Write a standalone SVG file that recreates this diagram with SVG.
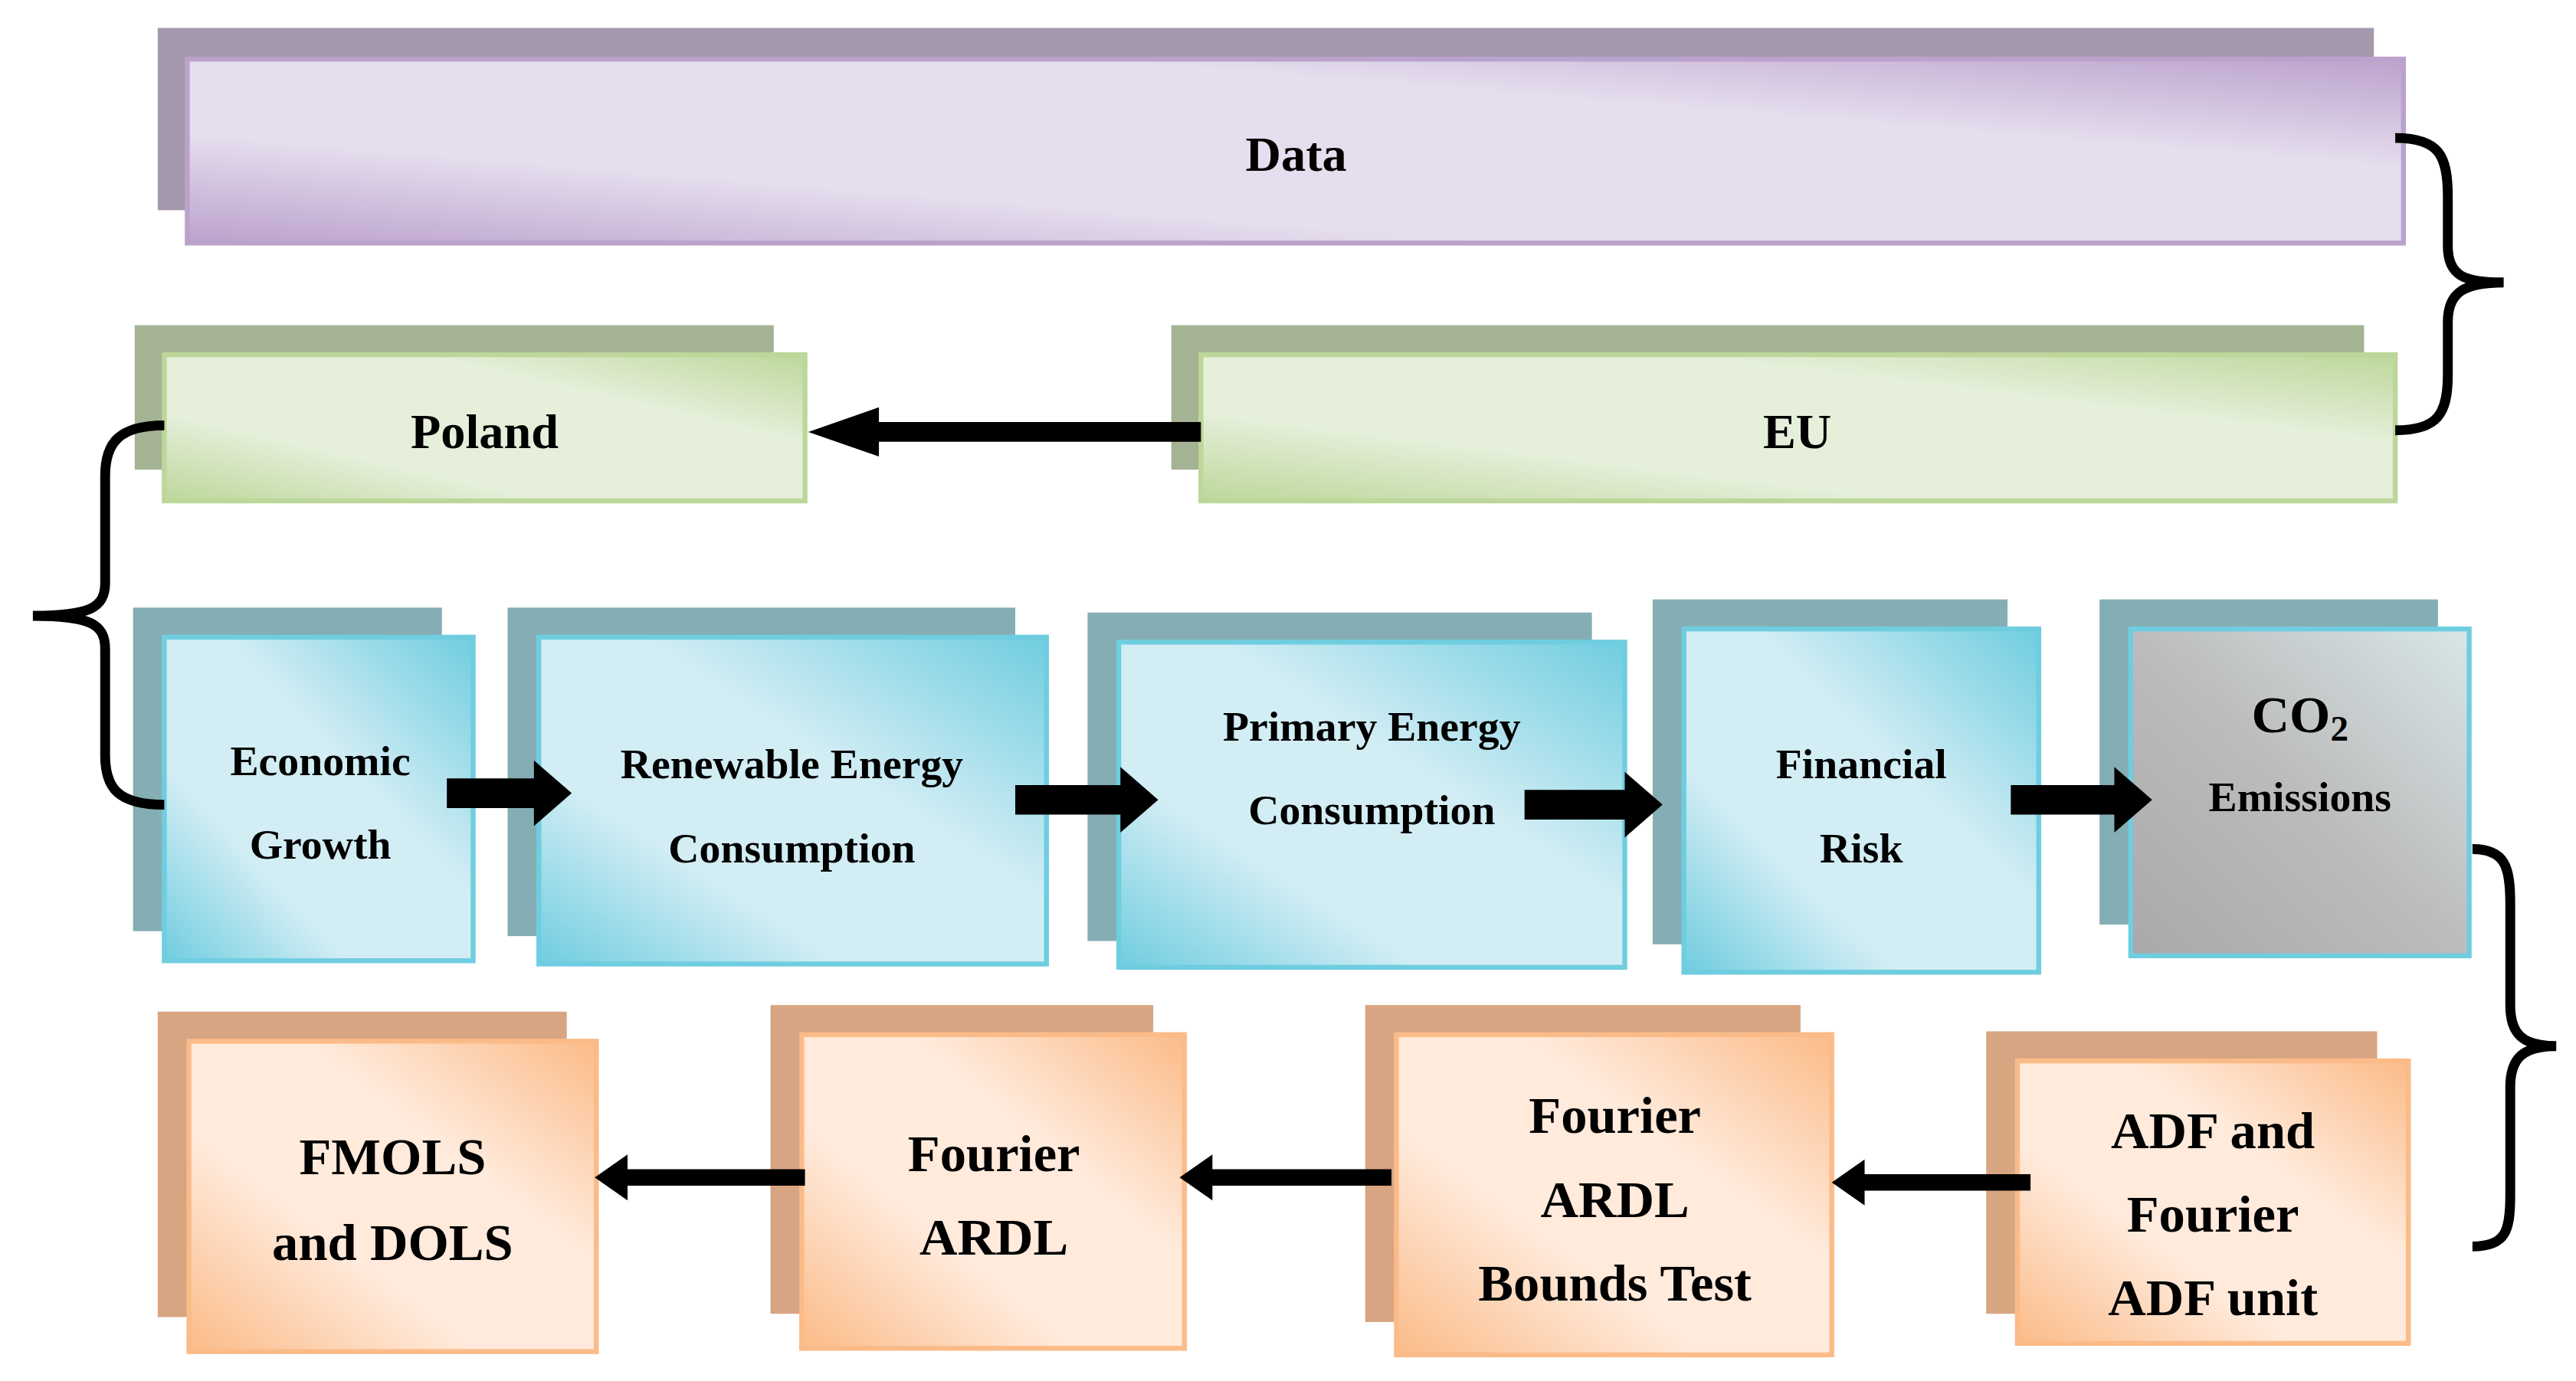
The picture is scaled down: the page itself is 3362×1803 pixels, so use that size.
<svg xmlns="http://www.w3.org/2000/svg" width="3362" height="1803" viewBox="0 0 3362 1803">
<defs>
<linearGradient id="gP" x1="0" y1="1" x2="1" y2="0"><stop offset="0" stop-color="#bba2cc"/><stop offset="0.3" stop-color="#e6deee"/><stop offset="0.7" stop-color="#e6deee"/><stop offset="1" stop-color="#bba2cc"/></linearGradient>
<linearGradient id="gG" x1="0" y1="1" x2="1" y2="0"><stop offset="0" stop-color="#bcd79a"/><stop offset="0.3" stop-color="#e5efda"/><stop offset="0.7" stop-color="#e5efda"/><stop offset="1" stop-color="#bcd79a"/></linearGradient>
<linearGradient id="gB" x1="0" y1="1" x2="1" y2="0"><stop offset="0" stop-color="#6fcde0"/><stop offset="0.3" stop-color="#d2edf4"/><stop offset="0.6" stop-color="#d2edf4"/><stop offset="1" stop-color="#6fcde0"/></linearGradient>
<linearGradient id="gO" x1="1" y1="0" x2="0" y2="1"><stop offset="0" stop-color="#fbbb88"/><stop offset="0.35" stop-color="#ffeadb"/><stop offset="0.65" stop-color="#ffeadb"/><stop offset="1" stop-color="#fbbb88"/></linearGradient>
<linearGradient id="gC" x1="0" y1="1" x2="1" y2="0"><stop offset="0" stop-color="#a9a9a9"/><stop offset="0.5" stop-color="#bcbcbc"/><stop offset="1" stop-color="#d8e6e8"/></linearGradient>
<style>
text{font-family:"Liberation Serif","Times New Roman",serif;font-weight:bold;fill:#000;text-anchor:middle}
.t1{font-size:30px}.t2{font-size:26px}.t3{font-size:32px}
.sp{fill:#a498ac}.sg{fill:#a3b394}.sb{fill:#84aeb4}.so{fill:#d8a583}
.fp{fill:url(#gP);stroke:#bba2cc;stroke-width:3}
.fg{fill:url(#gG);stroke:#bcd79a;stroke-width:3}
.fb{fill:url(#gB);stroke:#6fcde0;stroke-width:3}
.fo{fill:url(#gO);stroke:#fbbb88;stroke-width:3}
.fc{fill:url(#gC);stroke:#6fcde0;stroke-width:3}
.br{fill:none;stroke:#000;stroke-width:6}
</style>
</defs>
<g transform="scale(2.1441)">
<g id="data"><rect class="sp" x="96" y="17" width="1349" height="111"/><rect class="fp" x="114" y="36" width="1349" height="112"/><text class="t1" x="789" y="104">Data</text></g>
<g id="poland"><rect class="sg" x="82" y="198" width="389" height="88"/><rect class="fg" x="100" y="216" width="390" height="89"/><text class="t1" x="295" y="273">Poland</text></g>
<g id="eu"><rect class="sg" x="713" y="198" width="726" height="88"/><rect class="fg" x="731" y="216" width="727" height="89"/><text class="t1" x="1094" y="273">EU</text></g>
<g id="econ"><rect class="sb" x="81" y="370" width="188" height="197"/><rect class="fb" x="100" y="388" width="188" height="197"/><text class="t2" x="195" y="472">Economic</text><text class="t2" x="195" y="523">Growth</text></g>
<g id="ren"><rect class="sb" x="309" y="370" width="309" height="200"/><rect class="fb" x="328" y="388" width="309" height="199"/><text class="t2" x="482" y="474">Renewable Energy</text><text class="t2" x="482" y="525">Consumption</text></g>
<g id="prim"><rect class="sb" x="662" y="373" width="307" height="200"/><rect class="fb" x="681" y="391" width="308" height="198"/><text class="t2" x="835" y="451">Primary Energy</text><text class="t2" x="835" y="502">Consumption</text></g>
<g id="fin"><rect class="sb" x="1006" y="365" width="216" height="210"/><rect class="fb" x="1025" y="383" width="216" height="209"/><text class="t2" x="1133" y="474">Financial</text><text class="t2" x="1133" y="525">Risk</text></g>
<g id="co2"><rect class="sb" x="1278" y="365" width="206" height="198"/><rect class="fc" x="1297" y="383" width="206" height="199"/><text class="t3" x="1400" y="446">CO<tspan font-size="22" dy="5">2</tspan></text><text class="t2" x="1400" y="494">Emissions</text></g>
<g id="fmols"><rect class="so" x="96" y="616" width="249" height="186"/><rect class="fo" x="115" y="634" width="248" height="189"/><text class="t3" x="239" y="715">FMOLS</text><text class="t3" x="239" y="767">and DOLS</text></g>
<g id="fardl"><rect class="so" x="469" y="612" width="233" height="188"/><rect class="fo" x="488" y="630" width="233" height="191"/><text class="t3" x="605" y="713">Fourier</text><text class="t3" x="605" y="764">ARDL</text></g>
<g id="bounds"><rect class="so" x="831" y="612" width="265" height="193"/><rect class="fo" x="850" y="630" width="265" height="195"/><text class="t3" x="983" y="690">Fourier</text><text class="t3" x="983" y="741">ARDL</text><text class="t3" x="983" y="792">Bounds Test</text></g>
<g id="adf"><rect class="so" x="1209" y="628" width="238" height="172"/><rect class="fo" x="1228" y="646" width="238" height="172"/><text class="t3" x="1347" y="699">ADF and</text><text class="t3" x="1347" y="750">Fourier</text><text class="t3" x="1347" y="801">ADF unit</text></g>
<g id="connectors" fill="#000">
<polygon points="731,257 535,257 535,248 492,263 535,278 535,269 731,269"/>
<polygon points="272,474 325,474 325,463 348,483 325,503 325,492 272,492"/>
<polygon points="618,478 682,478 682,467 705,487 682,507 682,496 618,496"/>
<polygon points="928,481 989,481 989,470 1012,490 989,510 989,499 928,499"/>
<polygon points="1224,478 1287,478 1287,467 1310,487 1287,507 1287,496 1224,496"/>
<polygon points="1236,715 1135,715 1135,706 1115,720 1135,734 1135,725 1236,725"/>
<polygon points="847,712 738,712 738,703 718,717 738,731 738,722 847,722"/>
<polygon points="490,712 382,712 382,703 362,717 382,731 382,722 490,722"/>
<path class="br" d="M1458,84 C1485,84 1490,95 1490,120 L1490,150 C1490,168 1500,172 1524,172 C1500,172 1490,178 1490,196 L1490,228 C1490,252 1484,262 1458,262"/>
<path class="br" d="M100,259 C72,259 64,270 64,290 L64,355 C64,370 55,375 20,375 C55,375 64,380 64,395 L64,460 C64,480 72,490 100,490"/>
<path class="br" d="M1505,517 C1525,517 1528,528 1528,550 L1528,612 C1528,630 1536,637 1556,637 C1536,637 1528,644 1528,662 L1528,728 C1528,750 1525,759 1505,759"/>
</g>
</g>
</svg>
